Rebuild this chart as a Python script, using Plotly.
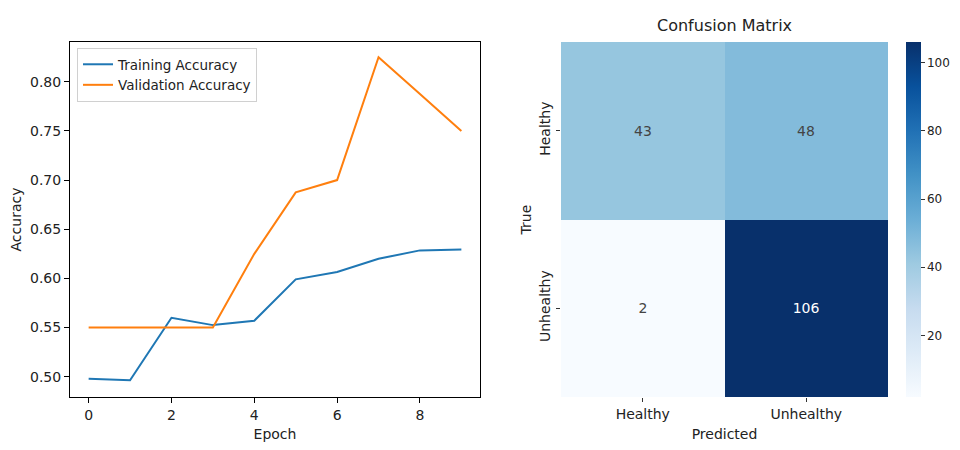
import plotly.graph_objects as go

epochs = [0, 1, 2, 3, 4, 5, 6, 7, 8, 9]
train_acc = [0.498, 0.4965, 0.560, 0.5525, 0.557, 0.599, 0.6065, 0.620, 0.6285, 0.6295]
val_acc = [0.55, 0.55, 0.55, 0.55, 0.625, 0.6875, 0.70, 0.825, 0.7875, 0.75]

classes = ["Healthy", "Unhealthy"]
cm = [[43, 48], [2, 106]]
cbar_ticks = [20, 40, 60, 80, 100]
acc_ticks = [0.50, 0.55, 0.60, 0.65, 0.70, 0.75, 0.80]
epoch_ticks = [0, 2, 4, 6, 8]

blues = ['rgb(247,251,255)', 'rgb(222,235,247)', 'rgb(198,219,239)', 'rgb(158,202,225)',
         'rgb(107,174,214)', 'rgb(66,146,198)', 'rgb(33,113,181)', 'rgb(8,81,156)', 'rgb(8,48,107)']
cscale = [[i / 8, c] for i, c in enumerate(blues)]

FONT = "DejaVu Sans"
OFF = 8          # page body margin
W, H = 944, 434  # figure size so that page fits the 960x450 window


def px(x):
    return (x - OFF) / W


def py(y):
    return 1 - (y - OFF) / H


fig = go.Figure()

fig.add_trace(go.Scatter(x=epochs, y=train_acc, mode="lines", name="Training Accuracy",
                         line=dict(color="#1f77b4", width=2), xaxis="x", yaxis="y"))
fig.add_trace(go.Scatter(x=epochs, y=val_acc, mode="lines", name="Validation Accuracy",
                         line=dict(color="#ff7f0e", width=2), xaxis="x", yaxis="y"))

zmin = min(min(r) for r in cm)
zmax = max(max(r) for r in cm)
fig.add_trace(go.Heatmap(
    z=cm, x=classes, y=classes, colorscale=cscale, zmin=zmin, zmax=zmax,
    xaxis="x2", yaxis="y2", showscale=True, xgap=0, ygap=0,
    texttemplate="%{z}", textfont=dict(family=FONT, size=14),
    hoverinfo="skip",
    colorbar=dict(x=px(906), xanchor="left", xpad=0, ypad=0,
                  y=py((42 + 397) / 2), yanchor="middle",
                  len=355, lenmode="pixels", thickness=15, thicknessmode="pixels",
                  outlinewidth=0, tickvals=cbar_ticks, ticks="outside", ticklen=4,
                  tickcolor="#333", tickfont=dict(family=FONT, size=12, color="#222")),
))

axis_common = dict(showgrid=False, zeroline=False, linecolor="black", linewidth=1,
                   ticks="outside", ticklen=5, tickcolor="black", automargin=False,
                   tickfont=dict(family=FONT, size=14, color="#222"))

fig.update_layout(
    width=W, height=H, margin=dict(l=0, r=0, t=0, b=0, autoexpand=False),
    paper_bgcolor="white", plot_bgcolor="white",
    font=dict(family=FONT, size=13, color="#222"),
    xaxis=dict(domain=[px(70), px(480)], range=[-0.45, 9.45], tickvals=epoch_ticks,
               mirror=True, showline=True, anchor="y",
               title=dict(text="Epoch", font=dict(family=FONT, size=14), standoff=9), **axis_common),
    yaxis=dict(domain=[py(397), py(42)], range=[0.4794, 0.8404],
               tickvals=acc_ticks, tickformat=".2f",
               mirror=True, showline=True, anchor="x",
               title=dict(text="Accuracy", font=dict(family=FONT, size=14), standoff=6), **axis_common),
    xaxis2=dict(domain=[px(561), px(888)], anchor="y2", showgrid=False, zeroline=False,
                showline=False, ticks="outside", ticklen=4, tickcolor="#333", automargin=False,
                tickfont=dict(family=FONT, size=14, color="#222"),
                title=dict(text="Predicted", font=dict(family=FONT, size=14), standoff=9)),
    yaxis2=dict(domain=[py(397), py(42)], anchor="x2", autorange="reversed",
                showgrid=False, zeroline=False, showline=False, ticks="outside", ticklen=4,
                tickcolor="#333", tickangle=-90, automargin=False,
                tickfont=dict(family=FONT, size=14, color="#222"),
                title=dict(text="True", font=dict(family=FONT, size=14), standoff=2)),
    legend=dict(x=px(77), y=py(48), xanchor="left", yanchor="top",
                bgcolor="rgba(255,255,255,0.8)", bordercolor="#d0d0d0", borderwidth=1,
                font=dict(family=FONT, size=13.5, color="#222"), tracegroupgap=0),
    annotations=[dict(text="Confusion Matrix", x=px((561 + 888) / 2), y=py(25),
                      xref="paper", yref="paper", xanchor="center", yanchor="middle",
                      showarrow=False, font=dict(family=FONT, size=16, color="#222"))],
)

fig.write_html("out.html")
